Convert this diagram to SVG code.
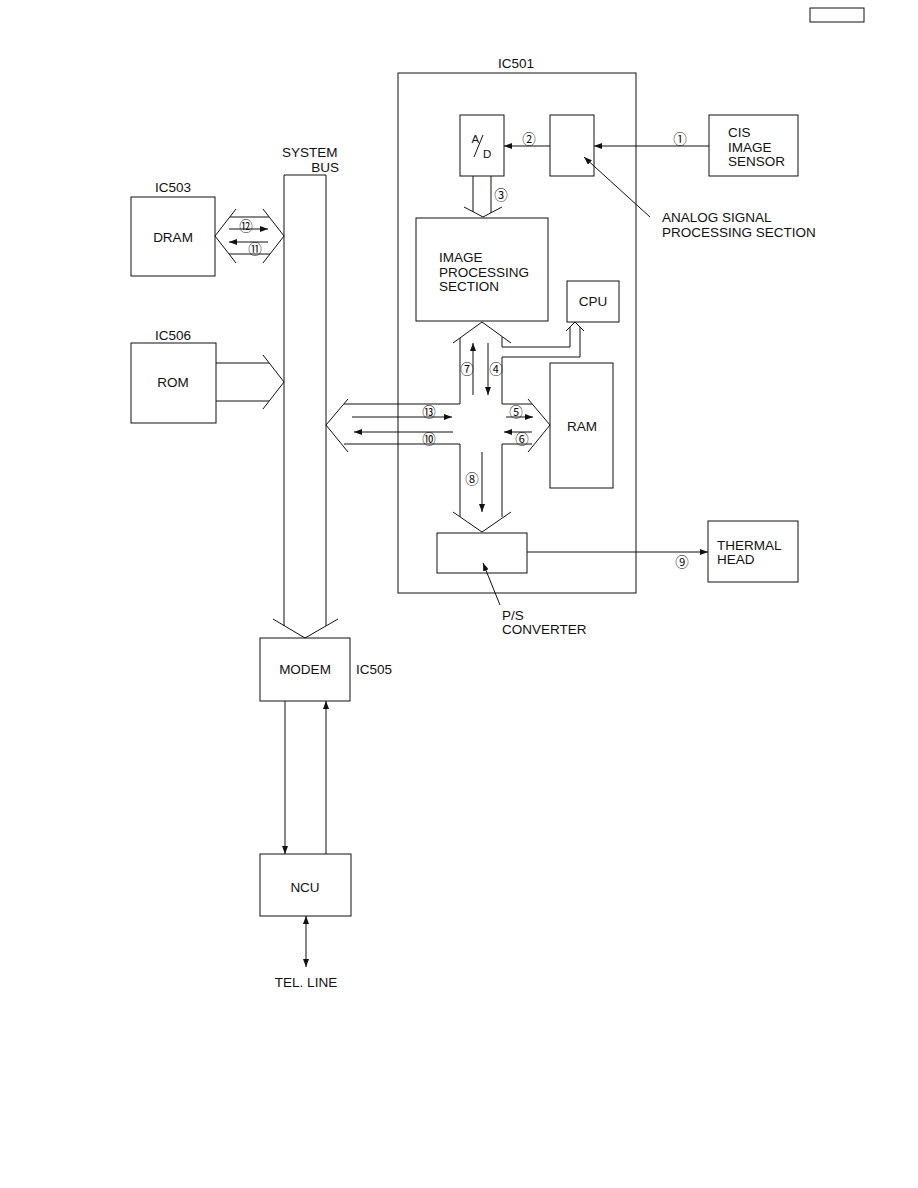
<svg xmlns="http://www.w3.org/2000/svg" width="918" height="1188" viewBox="0 0 918 1188">
<defs>
<style>
.b{fill:none;stroke:#111;stroke-width:1}
.l{fill:none;stroke:#111;stroke-width:1}
.a{fill:none;stroke:#111;stroke-width:1;marker-end:url(#ah)}
.t{font-family:"Liberation Sans",Arial,sans-serif;font-size:13.5px;fill:#111}
.c{text-anchor:middle}
.n{font-family:"Noto Sans CJK JP","DejaVu Sans",sans-serif;font-size:13.5px;fill:#111;text-anchor:middle;dominant-baseline:central}
</style>
<marker id="ah" markerUnits="userSpaceOnUse" markerWidth="8" markerHeight="6" refX="8" refY="3" orient="auto"><path d="M0,0 L8,3 L0,6 z" fill="#111"/></marker>
<marker id="as" markerUnits="userSpaceOnUse" markerWidth="8" markerHeight="6" refX="0" refY="3" orient="auto"><path d="M8,0 L0,3 L8,6 z" fill="#111"/></marker>
</defs>
<rect width="918" height="1188" fill="#fff"/>

<g id="page-tag"><rect class="b" x="810" y="8" width="54" height="14"/></g>

<g id="ic501"><rect class="b" x="398" y="73" width="238" height="520"/><text class="t c" x="516" y="68">IC501</text></g>

<g id="ad"><rect class="b" x="460" y="115" width="44" height="61"/>
<text class="t" x="471.5" y="143" style="font-size:11.5px">A</text><text class="t" x="483" y="158" style="font-size:11.5px">D</text>
<line class="l" x1="474" y1="157" x2="483" y2="135"/></g>

<g id="analog"><rect class="b" x="550" y="115" width="44" height="61"/>
<text class="t" x="662" y="222">ANALOG SIGNAL</text><text class="t" x="662" y="237">PROCESSING SECTION</text></g>

<g id="cis"><rect class="b" x="709" y="115" width="89" height="61"/>
<text class="t" x="728" y="137">CIS</text><text class="t" x="728" y="152">IMAGE</text><text class="t" x="728" y="166">SENSOR</text></g>

<g id="image-proc"><rect class="b" x="416" y="218" width="132" height="103"/>
<text class="t" x="439" y="262">IMAGE</text><text class="t" x="439" y="277">PROCESSING</text><text class="t" x="439" y="291">SECTION</text></g>

<g id="cpu"><rect class="b" x="567" y="281" width="52" height="41"/><text class="t c" x="593" y="306">CPU</text></g>

<g id="ram"><rect class="b" x="550" y="363" width="63" height="125"/><text class="t c" x="582" y="431">RAM</text></g>

<g id="ps"><rect class="b" x="437" y="533" width="90" height="40"/>
<text class="t" x="502" y="620">P/S</text><text class="t" x="502" y="634">CONVERTER</text></g>

<g id="thermal"><rect class="b" x="708" y="521" width="90" height="61"/>
<text class="t" x="717" y="550">THERMAL</text><text class="t" x="717" y="564">HEAD</text></g>

<g id="dram"><rect class="b" x="131" y="197" width="84" height="79"/>
<text class="t c" x="173" y="192">IC503</text><text class="t c" x="173" y="242">DRAM</text></g>

<g id="rom"><rect class="b" x="131" y="343" width="85" height="80"/>
<text class="t c" x="173" y="340">IC506</text><text class="t c" x="173" y="387">ROM</text></g>

<g id="system-bus"><path class="l" d="M284,626 V175 H326 V626"/>
<text class="t" x="282" y="157">SYSTEM</text><text class="t" x="339" y="172" text-anchor="end">BUS</text></g>

<g id="modem"><rect class="b" x="260" y="638" width="90" height="63"/>
<text class="t c" x="305" y="674">MODEM</text><text class="t" x="356" y="674">IC505</text></g>

<g id="ncu"><rect class="b" x="260" y="854" width="91" height="62"/><text class="t c" x="305" y="892">NCU</text></g>

<g id="tel-line"><text class="t c" x="306" y="987">TEL. LINE</text></g>

<g id="connectors">
<polyline class="l" points="273,619 305,638 338,619"/>
<polyline class="l" points="236,209 215,236 236,263"/>
<polyline class="l" points="263,209 284,236 263,263"/>
<line class="l" x1="230" y1="217" x2="269" y2="217"/>
<line class="l" x1="229" y1="254" x2="270" y2="254"/>
<polyline class="l" points="263,355 284,382 263,409"/>
<line class="l" x1="216" y1="363" x2="269" y2="363"/>
<line class="l" x1="216" y1="401" x2="269" y2="401"/>
<polyline class="l" points="464,207 483,217 502,207"/>
<line class="l" x1="473" y1="176" x2="473" y2="212"/>
<line class="l" x1="491" y1="176" x2="491" y2="213"/>
<polyline class="l" points="453,343 482,322 511,343"/>
<polyline class="l" points="348,399 326,425 348,452"/>
<polyline class="l" points="528,399 550,425 528,452"/>
<polyline class="l" points="453,512 482,532 511,512"/>
<path class="l" d="M460,338 V404 H344"/>
<path class="l" d="M344,444 H460 V517"/>
<path class="l" d="M502,517 V444 H532"/>
<path class="l" d="M532,404 H502 V357 H580 V327"/>
<path class="l" d="M502,337 V347 H570 V327"/>
<polyline class="l" points="566,331 575,322 584,331"/>
<line class="a" x1="709" y1="146" x2="594" y2="146"/>
<line class="a" x1="550" y1="146" x2="504" y2="146"/>
<line class="a" x1="650" y1="217" x2="584" y2="157"/>
<line class="a" x1="473" y1="395" x2="473" y2="343"/>
<line class="a" x1="488" y1="343" x2="488" y2="395"/>
<line class="a" x1="352" y1="417" x2="452" y2="417"/>
<line class="a" x1="453" y1="432" x2="354" y2="432"/>
<line class="a" x1="506" y1="417" x2="533" y2="417"/>
<line class="a" x1="532" y1="432" x2="504" y2="432"/>
<line class="a" x1="482" y1="452" x2="482" y2="512"/>
<line class="a" x1="229" y1="229" x2="268" y2="229"/>
<line class="a" x1="268" y1="242" x2="229" y2="242"/>
<line class="a" x1="527" y1="552" x2="708" y2="552"/>
<line class="a" x1="500" y1="605" x2="483" y2="563"/>
<line class="a" x1="285" y1="701" x2="285" y2="854"/>
<line class="a" x1="326" y1="854" x2="326" y2="701"/>
<line class="a" x1="306" y1="916" x2="306" y2="967" marker-start="url(#as)"/>
<text class="n" x="680" y="138">①</text>
<text class="n" x="529" y="138">②</text>
<text class="n" x="501" y="194">③</text>
<text class="n" x="496" y="368">④</text>
<text class="n" x="516" y="411">⑤</text>
<text class="n" x="522" y="438">⑥</text>
<text class="n" x="467" y="368">⑦</text>
<text class="n" x="472" y="478">⑧</text>
<text class="n" x="682" y="561">⑨</text>
<text class="n" x="429" y="438">⑩</text>
<text class="n" x="255" y="248">⑪</text>
<text class="n" x="246" y="225">⑫</text>
<text class="n" x="429" y="411">⑬</text>
</g>
</svg>
